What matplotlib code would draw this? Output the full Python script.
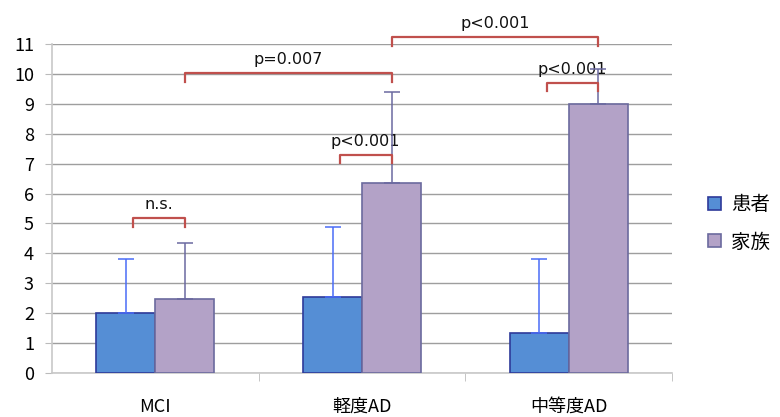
import numpy as np
import matplotlib.pyplot as plt

plt.rcParams["font.family"] = ["Noto Sans CJK JP", "DejaVu Sans"]

categories = ["MCI", "軽度AD", "中等度AD"]
series_names = ["患者", "家族"]
patient_mean = [2.0, 2.55, 1.33]
patient_sd = [1.82, 2.33, 2.48]
family_mean = [2.46, 6.36, 8.98]
family_sd = [1.89, 3.05, 1.2]

# significance brackets: (left bar, right bar, height, leg drop, label)
# bar index = group * 2 + series
brackets = [
    (0, 1, 5.18, 0.3, "n.s."),
    (2, 3, 7.29, 0.27, "p<0.001"),
    (1, 3, 10.03, 0.3, "p=0.007"),
    (4, 5, 9.7, 0.27, "p<0.001"),
    (3, 5, 11.22, 0.3, "p<0.001"),
]

fig = plt.figure(figsize=(7.8, 4.17), dpi=100)
ax = fig.add_axes([0.0667, 0.1055, 0.795, 0.789])

x = np.arange(len(categories))
w = 0.285
fill = ["#558ED5", "#B3A2C7"]
edge = ["#2E3A9A", "#6B6A9E"]
errc = ["#4A6CF7", "#6B69A0"]

bar_x = []
for i, (means, sds) in enumerate([(patient_mean, patient_sd), (family_mean, family_sd)]):
    pos = x + (i - 0.5) * w
    ax.bar(pos, means, w, color=fill[i], edgecolor=edge[i], linewidth=1.2,
           label=series_names[i], zorder=3)
    ax.errorbar(pos, means, yerr=[np.zeros(len(sds)), sds], fmt="none",
                ecolor=errc[i], elinewidth=1.1, capsize=6, capthick=1.1, zorder=4)
    bar_x.append(pos)

centers = []
for g in range(len(categories)):
    centers += [bar_x[0][g], bar_x[1][g]]

for a, b, h, drop, label in brackets:
    xa = centers[a] + (0.035 if a % 2 == 0 else 0)
    xb = centers[b]
    ax.plot([xa, xa, xb, xb], [h - drop, h, h, h - drop], color="#C0504D",
            lw=1.6, zorder=5, clip_on=False, solid_joinstyle="round")
    ax.text((xa + xb) / 2, h + 0.2, label, ha="center", va="bottom",
            fontsize=11.5, family="DejaVu Sans", color="#111111")

ax.set_xlim(-0.5, 2.5)
ax.set_ylim(0, 11)
ax.set_yticks(range(0, 12))
ax.set_xticks(x)
ax.set_xticklabels(categories, fontsize=13)
ax.set_xticks([0.5, 1.5, 2.5], minor=True)
ax.tick_params(axis="x", which="major", length=0, pad=18)
ax.tick_params(axis="x", which="minor", length=6, color="#BBBBBB")
ax.tick_params(axis="y", length=5, color="#BBBBBB", labelsize=13, pad=8)
ax.grid(axis="y", color="#9E9E9E", lw=1.0, zorder=0)
for s in ["top", "right"]:
    ax.spines[s].set_visible(False)
for s in ["left", "bottom"]:
    ax.spines[s].set_color("#C8C8C8")
    ax.spines[s].set_linewidth(1.2)

leg = ax.legend(loc="center left", bbox_to_anchor=(1.058, 0.455), frameon=False,
                fontsize=14, handlelength=0.65, handleheight=0.65,
                labelspacing=0.85, handletextpad=0.55, borderpad=0,
                borderaxespad=0)

fig.savefig("out.png", dpi=100)
